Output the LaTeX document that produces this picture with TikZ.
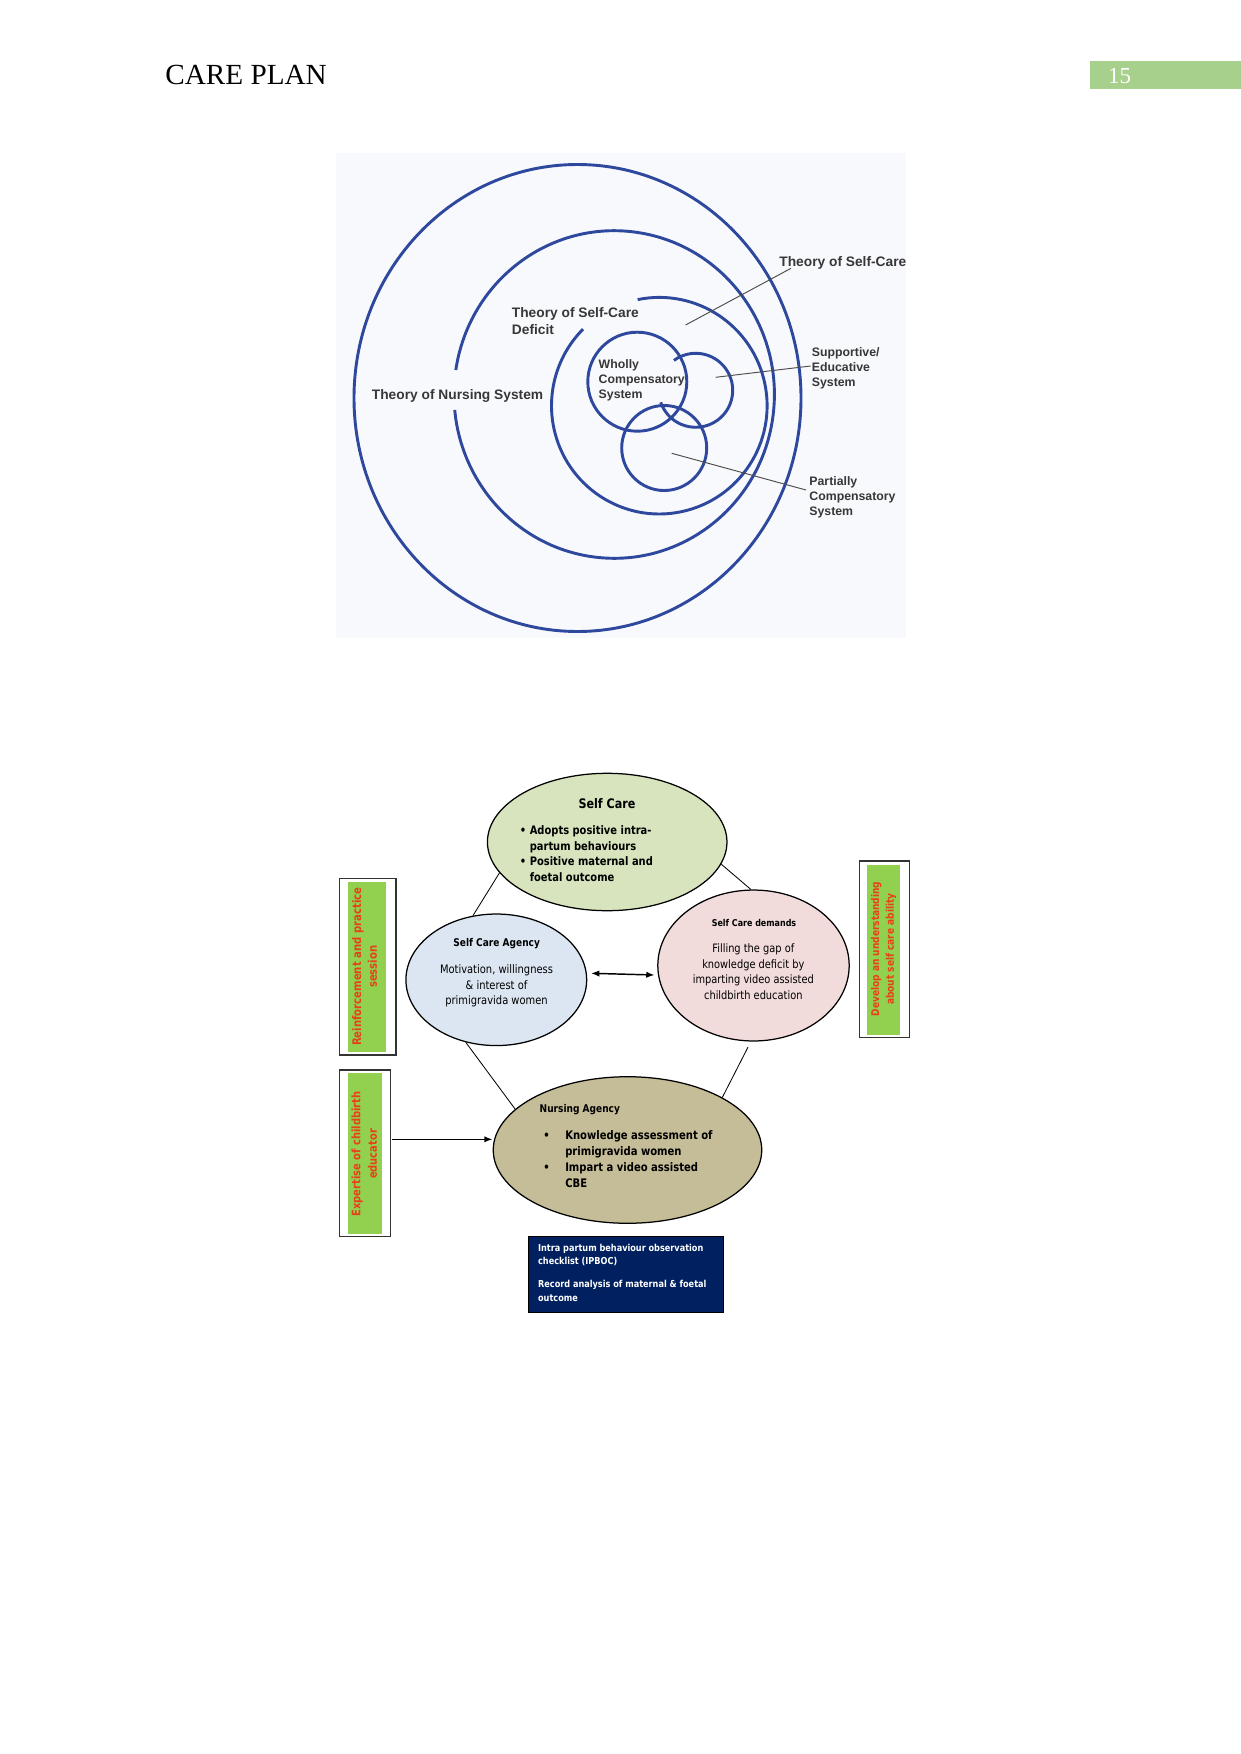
\documentclass[tikz,border=0pt]{standalone}
\usepackage{fontspec}
\setmainfont{Liberation Serif}
\newfontfamily\arl{Liberation Sans}
\newfontfamily\tah[FakeStretch=0.85]{DejaVu Sans}
\usetikzlibrary{shapes.geometric,arrows.meta,calc}
\definecolor{ringblue}{RGB}{46,72,158}
\definecolor{lblgray}{RGB}{55,55,55}
\definecolor{panelbg}{RGB}{248,249,252}
\definecolor{pggreen}{RGB}{168,208,141}
\definecolor{scgreen}{RGB}{215,228,189}
\definecolor{agblue}{RGB}{220,230,242}
\definecolor{dmpink}{RGB}{242,220,219}
\definecolor{natan}{RGB}{196,189,151}
\definecolor{boxgreen}{RGB}{146,208,80}
\definecolor{boxred}{RGB}{232,64,24}
\definecolor{navy}{RGB}{0,32,96}
\begin{document}
\begin{tikzpicture}[x=0.4797pt,y=-0.4797pt,
  ring/.style={draw=ringblue,line width=1.4pt},
  leader/.style={draw=black!70,line width=0.45pt},
  lbl/.style={inner sep=0,anchor=west,align=left,text=lblgray,font=\arl\bfseries\fontsize{6.6}{8}\selectfont},
  slbl/.style={lbl,font=\arl\bfseries\fontsize{5.9}{7.2}\selectfont},
  oval/.style={ellipse,draw=black,line width=0.6pt,inner sep=0},
  link/.style={draw=black,line width=0.4pt},
  arr/.style={draw=black,line width=0.7pt,-{Latex[length=4pt,width=3pt]}},
  dblarr/.style={draw=black,line width=0.7pt,{Latex[length=4pt,width=3pt]}-{Latex[length=4pt,width=3pt]}},
  outerbox/.style={draw=black!80,line width=0.6pt,fill=white,inner sep=0},
  greenbox/.style={fill=boxgreen,inner sep=0},
  vtext/.style={rotate=90,align=center,text=boxred,inner sep=0},
]
\useasboundingbox (0,0) rectangle (1241,1754);

% header
\node[anchor=base west,inner sep=0,font=\fontsize{14}{16}\selectfont] (hdr) at (165,85) {CARE PLAN};
\node[fill=pggreen,minimum width=72.4pt,minimum height=13.4pt,inner sep=0] (pgbox) at (1165.5,75) {};
\node[anchor=base west,inner sep=0,text=white,font=\fontsize{11}{13}\selectfont] (pgnum) at (1107.7,83.3) {15};

% ---------- figure 1 ----------
\fill[panelbg] (336,153) rectangle (906,638);
\draw[ring] (577.5,398) ellipse [x radius=223.5, y radius=233.5];
\coordinate (c2) at (614.2,394.5);
\draw[ring] ($(c2)+(188.6:160.2 and 163.8)$) arc[start angle=188.6,end angle=534.6,x radius=160.2,y radius=163.8];
\coordinate (c3) at (659.3,405.7);
\draw[ring] ($(c3)+(-101.6:107.8 and 108.3)$) arc[start angle=-101.6,end angle=225,x radius=107.8,y radius=108.3];
\draw[ring] (637.3,381.7) circle [radius=49.5];
\coordinate (c5) at (695.7,390.3);
\draw[ring] ($(c5)+(-126:37 and 37)$) arc[start angle=-126,end angle=161,x radius=37,y radius=37];
\draw[ring] (664.2,448) circle [radius=42.5];

\node[lbl] (tsc) at (779,262.7) {Theory of Self-Care};
\node[lbl] (tscd) at (511.5,321) {Theory of Self-Care\\Deficit};
\node[slbl] (wcs) at (598.3,380) {Wholly\\Compensatory\\System};
\node[lbl] (tns) at (371.5,396) {Theory of Nursing System};
\node[slbl] (ses) at (811.5,368.4) {Supportive/\\Educative\\System};
\node[slbl] (pcs) at (809,497) {Partially\\Compensatory\\System};

\coordinate (l1a) at (791,268.3); \coordinate (l1b) at (685.6,325);
\coordinate (l2a) at (810.7,366); \coordinate (l2b) at (715.7,377.3);
\coordinate (l3a) at (806,490); \coordinate (l3b) at (671.7,453.3);
\draw[leader] (l1a) -- (l1b);
\draw[leader] (l2a) -- (l2b);
\draw[leader] (l3a) -- (l3b);

% ---------- figure 2 ----------
\node[oval,fill=scgreen,minimum width=114.9pt,minimum height=65.9pt] (sc) at (607.2,842) {};
\node[oval,fill=agblue,minimum width=86.7pt,minimum height=63.1pt] (ag) at (496.3,979.8) {};
\node[oval,fill=dmpink,minimum width=91.8pt,minimum height=72.4pt] (dem) at (753.5,965.5) {};
\node[oval,fill=natan,minimum width=128.8pt,minimum height=70.3pt] (na) at (627.5,1150) {};

\node[inner sep=0,font=\tah\bfseries\fontsize{6.3}{7.5}\selectfont] (sct) at (607,803.3) {Self Care};
\node[anchor=west,inner sep=0,font=\tah\bfseries\fontsize{5.6}{7.45}\selectfont] (scb) at (519.5,855)
  {\begin{tabular}{@{}l@{\hspace{1.7pt}}l@{}}\textbullet & Adopts positive intra-\\ & partum behaviours\\ \textbullet & Positive maternal and\\ & foetal outcome\end{tabular}};

\node[inner sep=0,font=\tah\bfseries\fontsize{5.1}{6}\selectfont] (agt) at (496.7,943.3) {Self Care Agency};
\node[align=center,inner sep=0,font=\tah\fontsize{5.6}{7.5}\selectfont] (agb) at (496.5,985.8) {Motivation, willingness\\\& interest of\\primigravida women};

\node[inner sep=0,font=\tah\bfseries\fontsize{4.5}{6}\selectfont] (demt) at (754,922.7) {Self Care demands};
\node[align=center,inner sep=0,font=\tah\fontsize{5.55}{7.5}\selectfont] (demb) at (753.3,971.6) {Filling the gap of\\knowledge deficit by\\imparting video assisted\\childbirth education};

\node[anchor=west,inner sep=0,font=\tah\bfseries\fontsize{5.1}{7}\selectfont] (nat) at (539.3,1109.3) {Nursing Agency};
\node[anchor=west,inner sep=0,font=\tah\bfseries\fontsize{5.66}{7.7}\selectfont] (nab) at (543,1160)
  {\begin{tabular}{@{}l@{\hspace{7.4pt}}l@{}}\textbullet & Knowledge assessment of\\ & primigravida women\\ \textbullet & Impart a video assisted\\ & CBE\end{tabular}};

\node[fill=navy,draw=black,line width=0.5pt,minimum width=93.5pt,minimum height=36.3pt,inner sep=0] (ipb) at (625.8,1274.5) {};
\node[anchor=west,align=left,inner sep=0,text=white,font=\tah\bfseries\fontsize{4.6}{6.4}\selectfont] (ipbt) at (537.7,1272.5)
  {Intra partum behaviour observation\\checklist (IPBOC)\\[4.8pt]Record analysis of maternal \& foetal\\outcome};

% side boxes
\node[outerbox,minimum width=27.2pt,minimum height=84.8pt] (rf) at (367.6,966.7) {};
\node[greenbox,minimum width=18.5pt,minimum height=81.6pt] (rfg) at (367,966.7) {};
\node[vtext,font=\tah\bfseries\fontsize{5.7}{7.6}\selectfont] (rft) at (364.6,966.7) {Reinforcement and practice\\session};

\node[outerbox,minimum width=24.7pt,minimum height=80pt] (exp) at (365,1153.3) {};
\node[greenbox,minimum width=16pt,minimum height=77.1pt] (expg) at (365,1153.7) {};
\node[vtext,font=\tah\bfseries\fontsize{5.6}{8}\selectfont] (expt) at (364.3,1154) {Expertise of childbirth\\educator};

\node[outerbox,minimum width=24pt,minimum height=84.6pt] (dev) at (884.6,949.2) {};
\node[greenbox,minimum width=15.8pt,minimum height=81.6pt] (devg) at (883.2,950) {};
\node[vtext,font=\tah\bfseries\fontsize{5.1}{7}\selectfont] (devt) at (883.6,949) {Develop an understanding\\about self care ability};

% connectors
\draw[link] (sc.196) -- (ag.110);
\draw[link] (sc.349) -- (dem.92);
\draw[link] (ag.244) -- (na.160);
\draw[link,shorten <=3pt] (dem.268) -- (na.29);
\draw[dblarr] ($(ag.east)+(3.7,-6.5)$) -- ($(dem.west)+(-2.6,9.5)$);
\coordinate (ea) at ($(exp.east)+(1,-14)$);
\draw[arr] (ea) -- (ea -| na.west);
\end{tikzpicture}
\end{document}
